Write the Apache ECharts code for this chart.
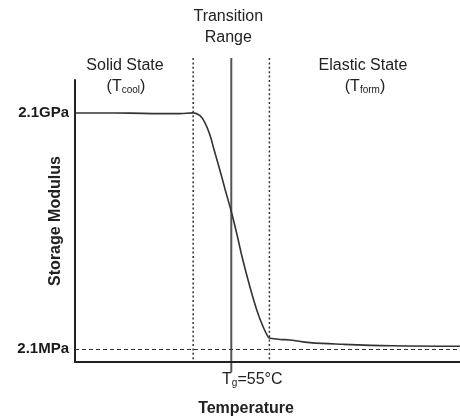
<!DOCTYPE html>
<html>
<head>
<meta charset="utf-8">
<script src="https://cdn.jsdelivr.net/npm/echarts@6/dist/echarts.min.js"></script>
<style>
  html, body { margin: 0; padding: 0; background: #fff; }
  #main { width: 460px; height: 419px; }
</style>
</head>
<body>
<div id="main"></div>
<script>
// temperature (°C) and storage modulus (MPa)
const tempC = [14, 20.6, 28.4, 36.3, 41.5, 45.0, 46.8, 48.1, 49.4, 50.5, 52.0, 53.35, 55.1, 56.4, 57.9, 59.9, 61.7, 63.4, 64.7, 65.2, 67.8, 70.4, 75.6, 84.3, 97.4, 115];
const modulusMPa = [2100, 2100, 2090, 2060, 2060, 2110, 1940, 1570, 1100, 712, 397, 228, 113, 63, 30.3, 13.0, 6.6, 4.0, 3.0, 2.9, 2.8, 2.76, 2.55, 2.43, 2.33, 2.3];

// y tick labels
const tickValuesMPa = [2.1, 2100];
const tickLabels = ['2.1MPa', '2.1GPa'];

// transition range and glass transition temp
const rangeStart = 45;
const rangeEnd = 65;
const tg = 55;

const FONT = '"Liberation Sans", Arial, sans-serif';
const TXT = '#222';

var myChart = echarts.init(document.getElementById('main'));

var option = {
  animation: false,
  grid: { left: 75, right: 0, top: 80, bottom: 57, outerBoundsMode: 'none', containLabel: false },
  xAxis: {
    type: 'value',
    min: 14,
    max: 115,
    axisLine: { lineStyle: { color: '#222', width: 2 } },
    axisTick: { show: false },
    axisLabel: { show: false },
    splitLine: { show: false }
  },
  yAxis: {
    type: 'value',
    min: Math.log10(1.449),
    max: 3.741,
    name: 'Storage Modulus',
    nameLocation: 'middle',
    nameRotate: 90,
    nameGap: 11,
    nameMoveOverlap: false,
    nameTextStyle: { fontFamily: FONT, fontSize: 16, fontWeight: 'bold', color: TXT },
    axisLine: { lineStyle: { color: '#222', width: 2 } },
    axisTick: { show: false },
    splitLine: { show: false },
    axisLabel: {
      customValues: tickValuesMPa.map(v => Math.log10(v)),
      formatter: function (v) {
        let best = 0;
        tickValuesMPa.forEach((t, i) => {
          if (Math.abs(Math.log10(t) - v) < Math.abs(Math.log10(tickValuesMPa[best]) - v)) best = i;
        });
        return tickLabels[best];
      },
      margin: 6,
      fontFamily: FONT,
      fontSize: 15,
      fontWeight: 'bold',
      color: '#1a1a1a'
    }
  },
  series: [
    {
      type: 'line',
      data: tempC.map((t, i) => [t, Math.log10(modulusMPa[i])]),
      smooth: 0.4,
      showSymbol: false,
      lineStyle: { color: '#333', width: 1.6 },
      markLine: {
        silent: true,
        symbol: 'none',
        label: { show: false },
        lineStyle: { color: '#333', type: [4, 3], width: 1.2 },
        data: [{ yAxis: Math.log10(2.1) }]
      }
    }
  ]
};
myChart.setOption(option);

// vertical guide lines and annotations, placed through the x scale
const px = v => myChart.convertToPixel({ xAxisIndex: 0 }, v);
const axisY = 362;
const x0 = px(rangeStart), x1 = px(rangeEnd), xg = px(tg);

const text = (t, x, y, extra) => Object.assign({
  type: 'text', x: x, y: y,
  style: Object.assign({
    text: t, fontFamily: FONT, fontSize: 16, fill: TXT,
    align: 'center', verticalAlign: 'middle'
  }, extra || {})
});

const subRich = {
  sub: { fontFamily: FONT, fontSize: 10, fill: TXT, padding: [7, 0, 0, 0] }
};

myChart.setOption({
  graphic: [
    { type: 'line', shape: { x1: x0, y1: 58, x2: x0, y2: axisY }, style: { stroke: '#333', lineWidth: 1.5, lineDash: [2, 2.4] } },
    { type: 'line', shape: { x1: x1, y1: 58, x2: x1, y2: axisY }, style: { stroke: '#333', lineWidth: 1.5, lineDash: [2, 2.4] } },
    { type: 'line', shape: { x1: xg, y1: 58, x2: xg, y2: 372 }, style: { stroke: '#555', lineWidth: 2 } },
    text('Transition', (x0 + x1) / 2 - 3, 17),
    text('Range', (x0 + x1) / 2 - 3, 38),
    text('Solid State', 125, 66),
    text('(T{sub|cool})', 126, 87, { rich: subRich }),
    text('Elastic State', 363, 66),
    text('(T{sub|form})', 365, 87, { rich: subRich }),
    text('T{sub|g}=55°C', xg + 21, 380, { rich: subRich }),
    text('Temperature', 246, 409, { fontWeight: 'bold' })
  ]
});
</script>
</body>
</html>
